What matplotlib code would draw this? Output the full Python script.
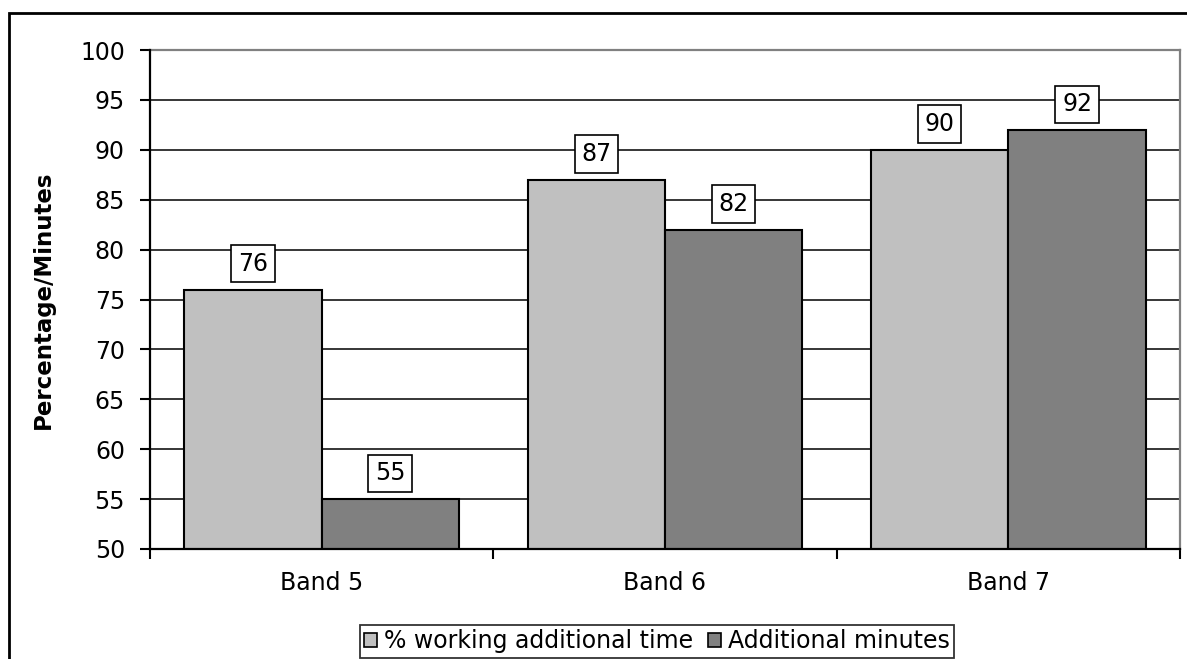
import matplotlib
matplotlib.use("Agg")
import matplotlib.pyplot as plt
import numpy as np
from matplotlib.patches import Rectangle, Patch

# values per band
bands = ["Band 5", "Band 6", "Band 7"]
pct_working = [76, 87, 90]
extra_minutes = [55, 82, 92]
series_names = ["% working additional time", "Additional minutes"]
y_ticks = list(range(50, 101, 5))

LIGHT = "#c0c0c0"
DARK = "#808080"
FS = 17

plt.rcParams["font.family"] = ["DejaVu Sans"]

W, H = 1187, 659
fig = plt.figure(figsize=(W / 100, H / 100), dpi=100)
ax = fig.add_axes([150 / W, 1 - 549 / H, 1030 / W, 499 / H])

x = np.arange(len(bands))
bw = 0.4
b1 = ax.bar(x - bw / 2, pct_working, bw, bottom=0, color=LIGHT,
            edgecolor="black", linewidth=1.5, zorder=3)
b2 = ax.bar(x + bw / 2, extra_minutes, bw, bottom=0, color=DARK,
            edgecolor="black", linewidth=1.5, zorder=3)

# boxed value labels above each bar
for bars, vals in ((b1, pct_working), (b2, extra_minutes)):
    for rect, v in zip(bars, vals):
        ax.annotate(str(v), (rect.get_x() + rect.get_width() / 2, v),
                    xytext=(0, 18.5), textcoords="offset points",
                    ha="center", va="center", fontsize=FS, zorder=5,
                    bbox=dict(boxstyle="square,pad=0.28", fc="white",
                              ec="black", lw=1.2))

ax.set_ylim(50, 100)
ax.set_xlim(-0.5, len(bands) - 0.5)
ax.set_yticks(y_ticks)
ax.set_yticklabels([str(t) for t in y_ticks], fontsize=FS)
ax.tick_params(axis="y", length=7, width=1.5, pad=11, direction="out")

ax.set_xticks(x)
ax.set_xticklabels(bands, fontsize=FS)
ax.tick_params(axis="x", which="major", length=0, pad=16)
ax.set_xticks(np.arange(-0.5, len(bands), 1.0), minor=True)
ax.tick_params(axis="x", which="minor", length=7, width=1.5, direction="out")

ax.yaxis.grid(True, color="black", linewidth=1.1, zorder=0)
ax.set_axisbelow(True)

for side in ("left", "bottom"):
    ax.spines[side].set_color("black")
    ax.spines[side].set_linewidth(1.6)
    ax.spines[side].set_zorder(4)
for side in ("top", "right"):
    ax.spines[side].set_color(DARK)
    ax.spines[side].set_linewidth(1.6)

ax.set_ylabel("Percentage/Minutes", fontsize=16.5, fontweight="bold")
ax.yaxis.set_label_coords(-95 / 1030, 0.5)

handles = [Patch(facecolor=LIGHT, edgecolor="black", linewidth=1.2),
           Patch(facecolor=DARK, edgecolor="black", linewidth=1.2)]
leg = fig.legend(handles, series_names, loc="lower center", ncol=2,
                 bbox_to_anchor=(657 / W, 1 / H), fontsize=FS,
                 frameon=True, fancybox=False, edgecolor="black",
                 handlelength=0.55, handleheight=0.55, handletextpad=0.3,
                 columnspacing=0.6, borderpad=0.2, borderaxespad=0)
leg.get_frame().set_linewidth(1.3)

# outer chart frame, running off the right and bottom edges
fig.add_artist(Rectangle((9 / W, -0.1), 1.2, 1.1 - 13 / H,
                         transform=fig.transFigure, fill=False,
                         edgecolor="black", linewidth=2, clip_on=False))

fig.savefig("out.png", dpi=100)
